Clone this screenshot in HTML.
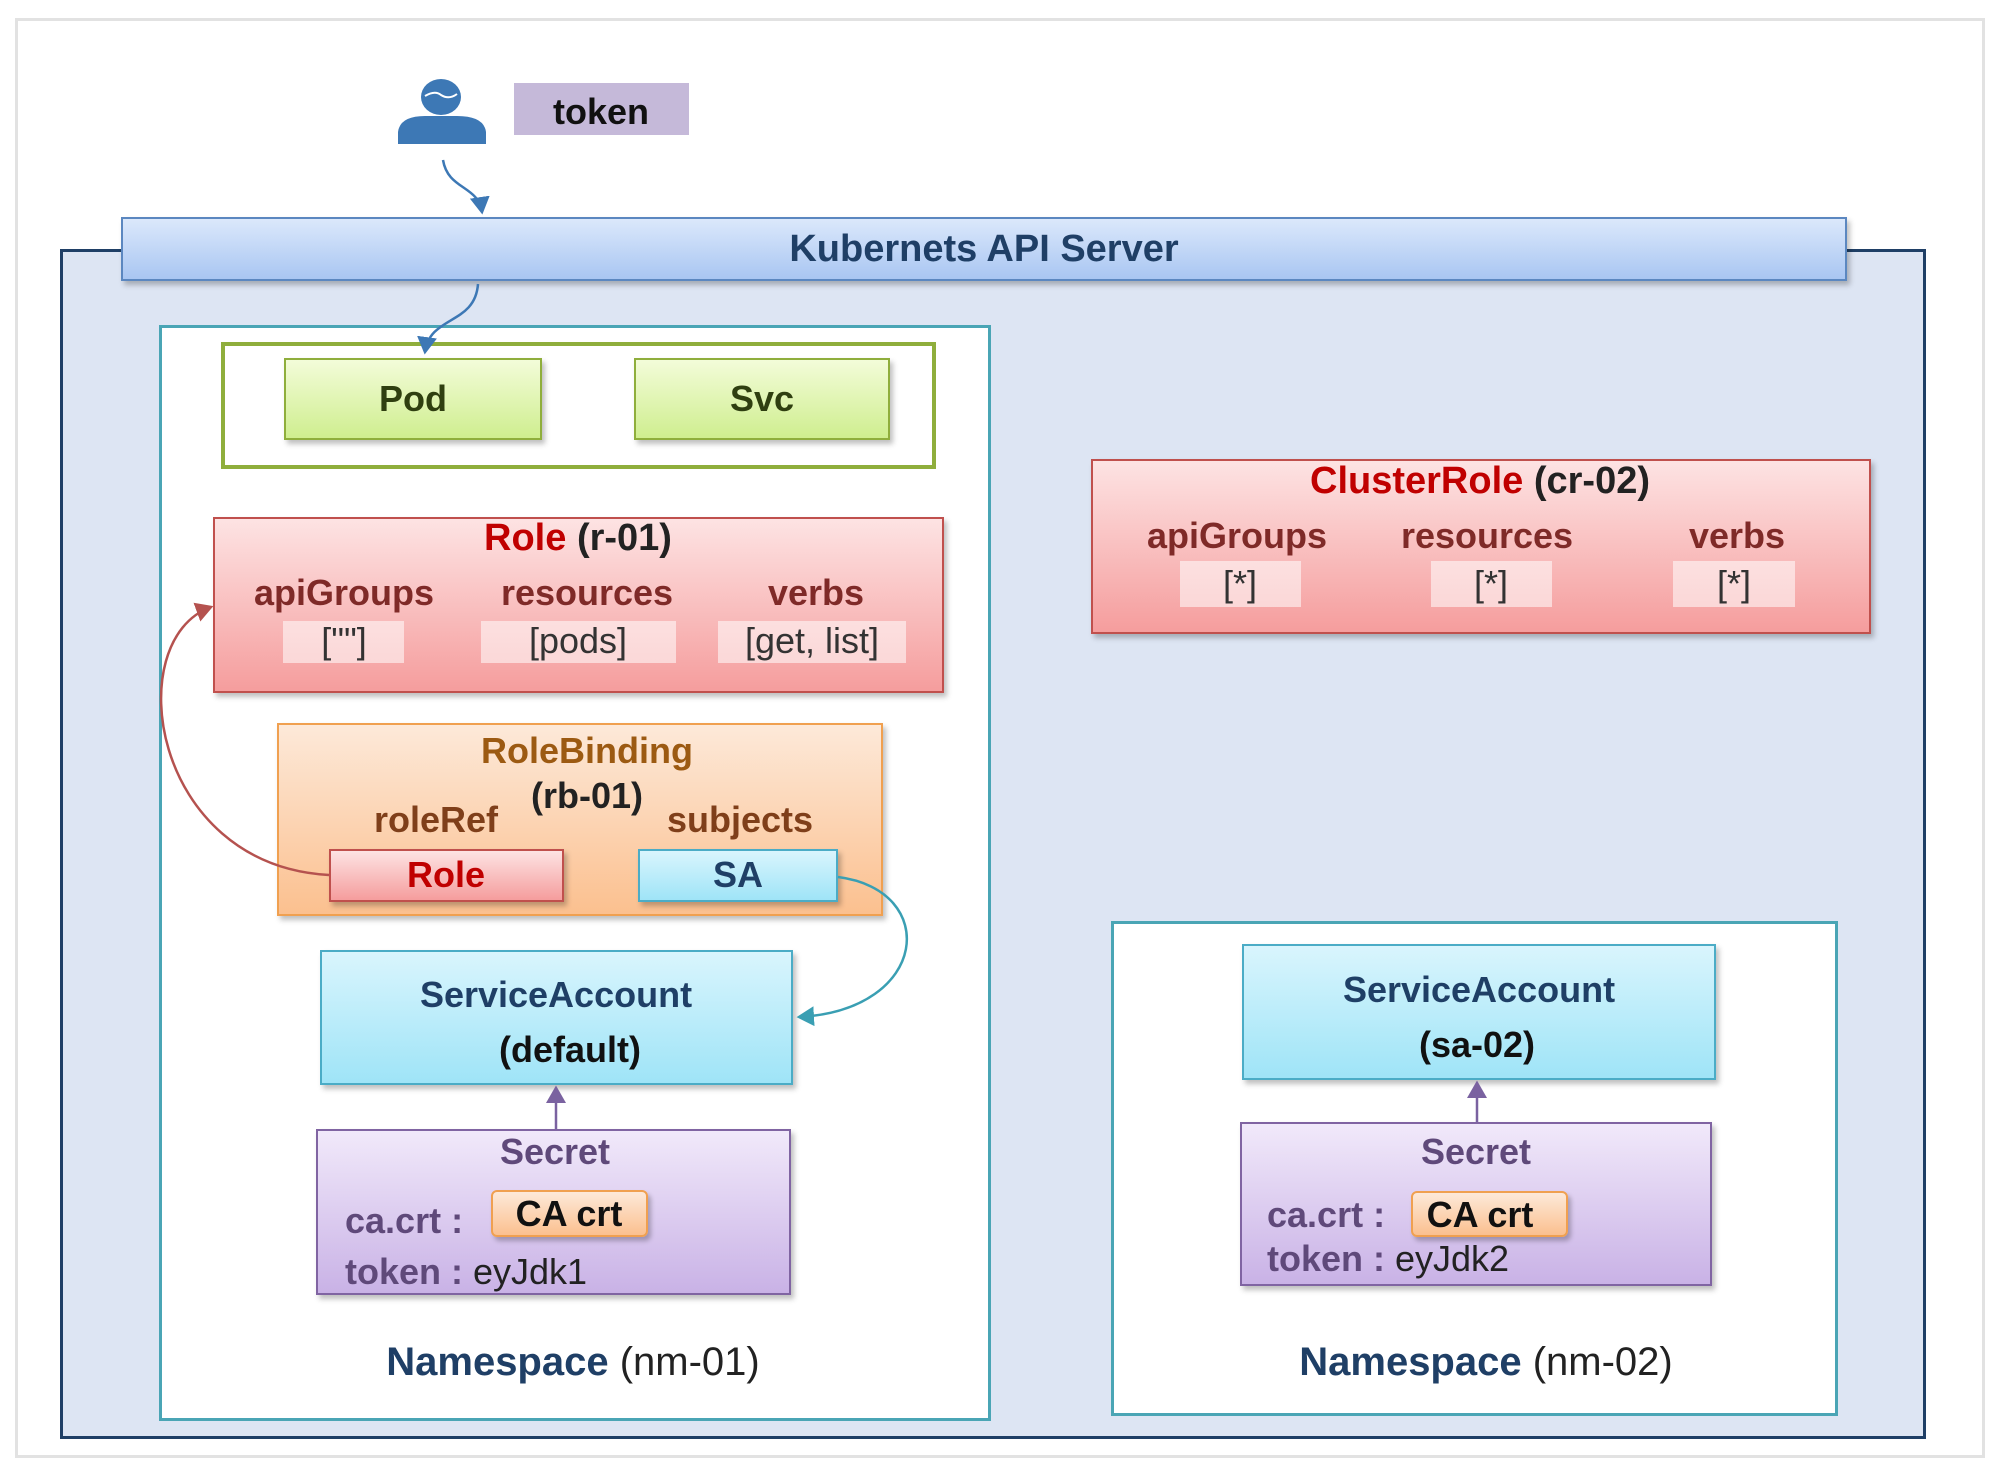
<!DOCTYPE html>
<html><head><meta charset="utf-8"><style>
html,body{margin:0;padding:0}
body{width:2000px;height:1466px;position:relative;background:#fff;font-family:"Liberation Sans",sans-serif;overflow:hidden}
.a{position:absolute;box-sizing:border-box}
.t{position:absolute;transform:translate(-50%,-50%);white-space:nowrap;font-weight:bold;font-size:36px;line-height:1}
.n{font-weight:normal}
.sh{box-shadow:3px 4px 5px rgba(0,0,0,0.25)}
.val{position:absolute;box-sizing:border-box;background:rgba(255,255,255,0.55)}
</style></head><body>
<div class="a" style="left:15px;top:18px;width:1970px;height:1440px;border:3px solid #e2e2e2"></div>
<div class="a" style="left:60px;top:249px;width:1866px;height:1190px;background:#dde5f3;border:3px solid #1f3f66"></div>
<div class="a sh" style="left:121px;top:217px;width:1726px;height:64px;background:linear-gradient(#dbe8fb,#a9c6f2);border:2px solid #5b87c0"></div>
<div class="t" style="left:984px;top:249px;color:#1f3f66;font-size:38px">Kubernets API Server</div>

<!-- person -->
<svg class="a" style="left:395px;top:78px" width="100" height="70">
<ellipse cx="46" cy="19" rx="20" ry="18" fill="#3d78b5"/>
<path d="M30 18 Q40 12 46 17 Q54 22 62 16" stroke="#fff" stroke-width="2" fill="none"/>
<path d="M3 66 L3 54 Q5 38 30 38 L62 38 Q89 38 91 54 L91 66 Z" fill="#3d78b5"/>
</svg>
<div class="a" style="left:514px;top:83px;width:175px;height:52px;background:#c5b9d9"></div>
<div class="t" style="left:601px;top:112px;color:#111;font-size:36px">token</div>

<!-- NS1 -->
<div class="a" style="left:159px;top:325px;width:832px;height:1096px;background:#fff;border:3px solid #4aa5b5"></div>
<div class="a" style="left:221px;top:342px;width:715px;height:127px;border:4px solid #8fae3c"></div>
<div class="a sh" style="left:284px;top:358px;width:258px;height:82px;background:linear-gradient(#f3fcd9,#cfee8f);border:2px solid #8fae3c"></div>
<div class="t" style="left:413px;top:399px;color:#2f3f10">Pod</div>
<div class="a sh" style="left:634px;top:358px;width:256px;height:82px;background:linear-gradient(#f3fcd9,#cfee8f);border:2px solid #8fae3c"></div>
<div class="t" style="left:762px;top:399px;color:#2f3f10">Svc</div>

<!-- Role -->
<div class="a sh" style="left:213px;top:517px;width:731px;height:176px;background:linear-gradient(#fde3e3,#f59d9d);border:2px solid #c0504d"></div>
<div class="t" style="left:578px;top:538px;color:#c00000;font-size:38px">Role <span style="color:#222">(r-01)</span></div>
<div class="t" style="left:344px;top:593px;color:#7f2a28">apiGroups</div>
<div class="t" style="left:587px;top:593px;color:#7f2a28">resources</div>
<div class="t" style="left:816px;top:593px;color:#7f2a28">verbs</div>
<div class="val" style="left:283px;top:621px;width:121px;height:42px"></div>
<div class="val" style="left:481px;top:621px;width:195px;height:42px"></div>
<div class="val" style="left:718px;top:621px;width:188px;height:42px"></div>
<div class="t n" style="left:344px;top:641px;color:#333">[""]</div>
<div class="t n" style="left:578px;top:641px;color:#333">[pods]</div>
<div class="t n" style="left:812px;top:641px;color:#333">[get, list]</div>

<!-- RoleBinding -->
<div class="a sh" style="left:277px;top:723px;width:606px;height:193px;background:linear-gradient(#fde9d9,#fbc08f);border:2px solid #f0a050"></div>
<div class="t" style="left:587px;top:751px;color:#9c5a12">RoleBinding</div>
<div class="t" style="left:587px;top:796px;color:#222">(rb-01)</div>
<div class="t" style="left:436px;top:820px;color:#7f3f1a">roleRef</div>
<div class="t" style="left:740px;top:820px;color:#7f3f1a">subjects</div>
<div class="a sh" style="left:329px;top:849px;width:235px;height:53px;background:linear-gradient(#fde3e3,#f59d9d);border:2px solid #c0504d"></div>
<div class="t" style="left:446px;top:875px;color:#c00000">Role</div>
<div class="a sh" style="left:638px;top:849px;width:200px;height:53px;background:linear-gradient(#d9f5fd,#9fe4f7);border:2px solid #4bacc6"></div>
<div class="t" style="left:738px;top:875px;color:#1f3f66">SA</div>

<!-- SA default -->
<div class="a sh" style="left:320px;top:950px;width:473px;height:135px;background:linear-gradient(#d9f5fd,#9fe4f7);border:2px solid #4bacc6"></div>
<div class="t" style="left:556px;top:995px;color:#1f3f66">ServiceAccount</div>
<div class="t" style="left:570px;top:1050px;color:#111">(default)</div>

<!-- Secret 1 -->
<div class="a sh" style="left:316px;top:1129px;width:475px;height:166px;background:linear-gradient(#f1e9fa,#c9b2e6);border:2px solid #8064a2"></div>
<div class="t" style="left:555px;top:1152px;color:#5f497a">Secret</div>
<div class="a" style="left:345px;top:1200px;font-size:36px;font-weight:bold;color:#5f497a">ca.crt :</div>
<div class="a sh" style="left:491px;top:1190px;width:157px;height:47px;background:linear-gradient(#fde9d9,#fbc08f);border:2px solid #f0a050;border-radius:6px"></div>
<div class="t" style="left:569px;top:1214px;color:#111">CA crt</div>
<div class="a" style="left:345px;top:1251px;font-size:36px;font-weight:bold;color:#5f497a">token : <span style="font-weight:normal;color:#222">eyJdk1</span></div>
<div class="t" style="left:573px;top:1362px;color:#1f3f66;font-size:40px">Namespace <span class="n" style="color:#222">(nm-01)</span></div>

<!-- ClusterRole -->
<div class="a sh" style="left:1091px;top:459px;width:780px;height:175px;background:linear-gradient(#fde3e3,#f59d9d);border:2px solid #c0504d"></div>
<div class="t" style="left:1480px;top:481px;color:#c00000;font-size:38px">ClusterRole <span style="color:#222">(cr-02)</span></div>
<div class="t" style="left:1237px;top:536px;color:#7f2a28">apiGroups</div>
<div class="t" style="left:1487px;top:536px;color:#7f2a28">resources</div>
<div class="t" style="left:1737px;top:536px;color:#7f2a28">verbs</div>
<div class="val" style="left:1180px;top:561px;width:121px;height:46px"></div>
<div class="val" style="left:1431px;top:561px;width:121px;height:46px"></div>
<div class="val" style="left:1673px;top:561px;width:122px;height:46px"></div>
<div class="t n" style="left:1240px;top:584px;color:#333">[*]</div>
<div class="t n" style="left:1491px;top:584px;color:#333">[*]</div>
<div class="t n" style="left:1734px;top:584px;color:#333">[*]</div>

<!-- NS2 -->
<div class="a" style="left:1111px;top:921px;width:727px;height:495px;background:#fff;border:3px solid #4aa5b5"></div>
<div class="a sh" style="left:1242px;top:944px;width:474px;height:136px;background:linear-gradient(#d9f5fd,#9fe4f7);border:2px solid #4bacc6"></div>
<div class="t" style="left:1479px;top:990px;color:#1f3f66">ServiceAccount</div>
<div class="t" style="left:1477px;top:1045px;color:#111">(sa-02)</div>
<div class="a sh" style="left:1240px;top:1122px;width:472px;height:164px;background:linear-gradient(#f1e9fa,#c9b2e6);border:2px solid #8064a2"></div>
<div class="t" style="left:1476px;top:1152px;color:#5f497a">Secret</div>
<div class="a" style="left:1267px;top:1194px;font-size:36px;font-weight:bold;color:#5f497a">ca.crt :</div>
<div class="a sh" style="left:1411px;top:1191px;width:157px;height:46px;background:linear-gradient(#fde9d9,#fbc08f);border:2px solid #f0a050;border-radius:6px"></div>
<div class="t" style="left:1480px;top:1215px;color:#111">CA crt</div>
<div class="a" style="left:1267px;top:1238px;font-size:36px;font-weight:bold;color:#5f497a">token : <span style="font-weight:normal;color:#222">eyJdk2</span></div>
<div class="t" style="left:1486px;top:1362px;color:#1f3f66;font-size:40px">Namespace <span class="n" style="color:#222">(nm-02)</span></div>

<!-- connectors -->
<svg class="a" style="left:0;top:0" width="2000" height="1466">
<defs>
<marker id="mb" markerWidth="8" markerHeight="8" refX="6" refY="4" orient="auto" markerUnits="strokeWidth"><path d="M0,0 L7,4 L0,8 Z" fill="#3d78b5"/></marker>
<marker id="mr" markerWidth="8" markerHeight="8" refX="6" refY="4" orient="auto" markerUnits="strokeWidth"><path d="M0,0 L7,4 L0,8 Z" fill="#b5524f"/></marker>
<marker id="mc" markerWidth="8" markerHeight="8" refX="6" refY="4" orient="auto" markerUnits="strokeWidth"><path d="M0,0 L7,4 L0,8 Z" fill="#3a9fb3"/></marker>
<marker id="mp" markerWidth="8" markerHeight="8" refX="6" refY="4" orient="auto" markerUnits="strokeWidth"><path d="M0,0 L7,4 L0,8 Z" fill="#7a62a0"/></marker>
</defs>
<path d="M443 160 C448 190 478 185 482 212" stroke="#3d78b5" stroke-width="2.5" fill="none" marker-end="url(#mb)"/>
<path d="M478 284 C475 325 430 315 425 352" stroke="#3d78b5" stroke-width="2.5" fill="none" marker-end="url(#mb)"/>
<path d="M329 875 C150 865 120 640 211 607" stroke="#b5524f" stroke-width="2.5" fill="none" marker-end="url(#mr)"/>
<path d="M838 877 C940 890 930 1010 799 1017" stroke="#3a9fb3" stroke-width="2.5" fill="none" marker-end="url(#mc)"/>
<path d="M556 1129 L556 1088" stroke="#7a62a0" stroke-width="2.5" fill="none" marker-end="url(#mp)"/>
<path d="M1477 1122 L1477 1083" stroke="#7a62a0" stroke-width="2.5" fill="none" marker-end="url(#mp)"/>
</svg>
</body></html>
